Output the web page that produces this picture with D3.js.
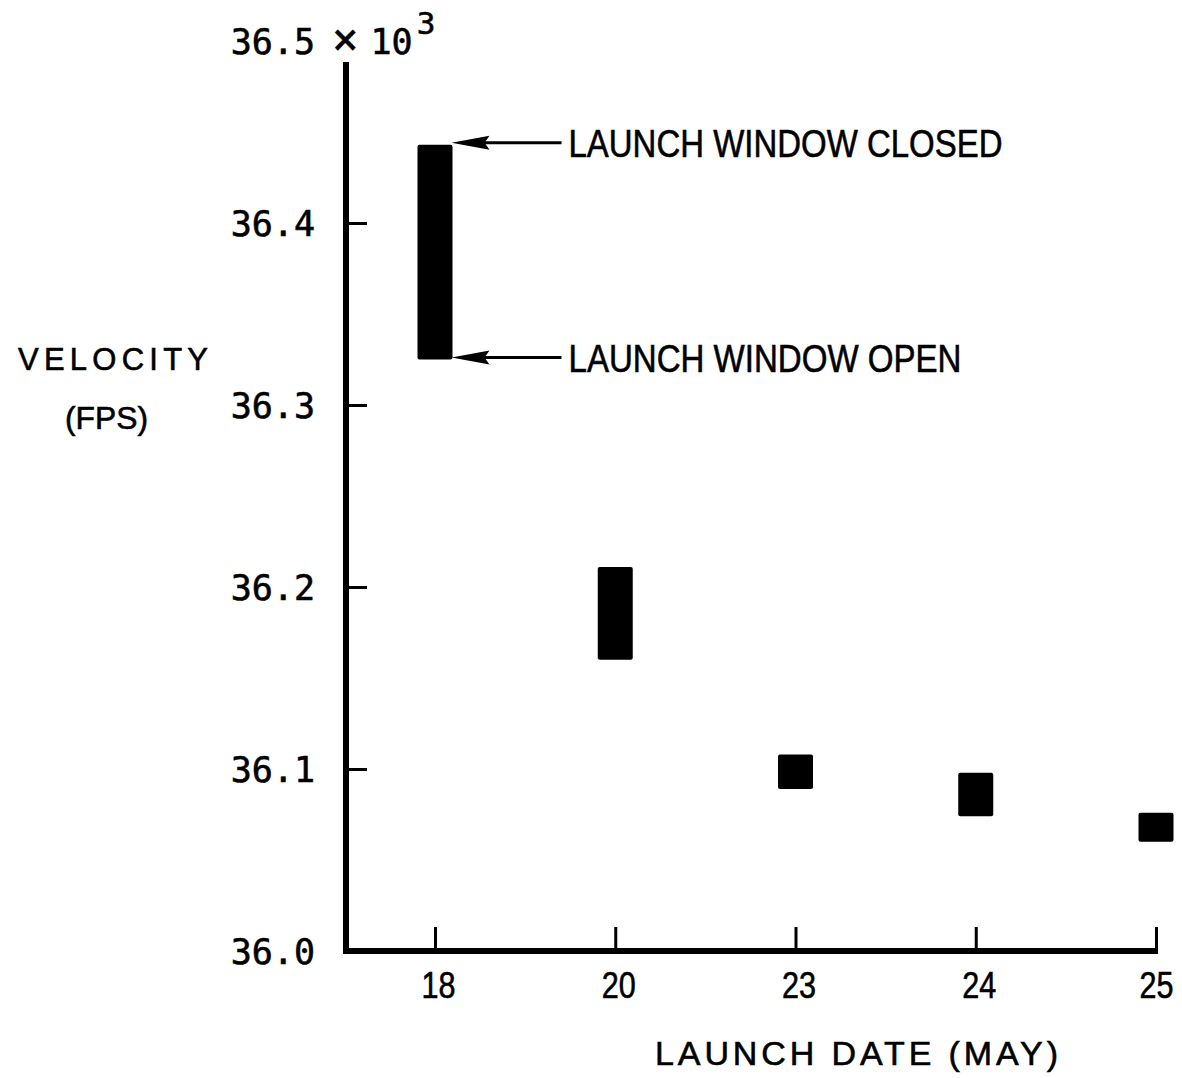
<!DOCTYPE html>
<html>
<head>
<meta charset="utf-8">
<script src="https://cdn.jsdelivr.net/npm/d3@7"></script>
<style>
  html, body { margin: 0; padding: 0; background: #fff; }
  svg { display: block; }
  .mono { font-family: "DejaVu Sans Mono", "Liberation Mono", monospace; }
  .sans { font-family: "Liberation Sans", "DejaVu Sans", Arial, sans-serif; }
  text { fill: #000; stroke: #000; stroke-width: 0.6px; }
</style>
</head>
<body>
<svg id="chart" width="1182" height="1078"></svg>
<script>
// ---- data ----
const launchDates = ["18", "20", "23", "24", "25"];
const windowOpen   = [36.325, 36.160, 36.089, 36.074, 36.060];   // x10^3 fps
const windowClosed = [36.443, 36.211, 36.108, 36.098, 36.076];   // x10^3 fps
const yTickValues  = [36.0, 36.1, 36.2, 36.3, 36.4];
const yTopValue    = 36.5;
const yAxisTitle   = ["VELOCITY", "(FPS)"];
const xAxisTitle   = "LAUNCH DATE (MAY)";
const annotations  = ["LAUNCH WINDOW CLOSED", "LAUNCH WINDOW OPEN"];

// ---- layout ----
const svg = d3.select("#chart");
const axisX = 346, axisY = 951;
const y = d3.scaleLinear().domain([36.0, 36.5]).range([951, 41]);
const x = d3.scalePoint().domain(launchDates).range([435, 1156]);
const barW = 35;

const rows = launchDates.map((d, i) => ({ date: d, open: windowOpen[i], closed: windowClosed[i] }));

// ---- y axis ----
const yAxis = d3.axisLeft(y)
  .tickValues(yTickValues)
  .tickFormat(d3.format(".1f"))
  .tickSizeInner(-21)
  .tickSizeOuter(0)
  .tickPadding(31);
const gy = svg.append("g").attr("transform", `translate(${axisX},0)`).call(yAxis);
gy.select(".domain").remove();
gy.selectAll(".tick line").attr("stroke", "#000").attr("stroke-width", 3);
gy.selectAll(".tick text")
  .attr("class", "mono")
  .style("font-size", "35px")
  .attr("dy", "0.36em");
gy.selectAll(".tick").filter(d => d === 36.0).select("line").remove();

// top label 36.5 x 10^3
const topLbl = svg.append("g").attr("class", "mono").style("font-size", "35px");
topLbl.append("text")
  .attr("x", axisX - 31).attr("y", y(yTopValue)).attr("dy", "0.36em")
  .attr("text-anchor", "end").text(d3.format(".1f")(yTopValue));
const rest = topLbl.append("text")
  .attr("x", axisX - 14).attr("y", y(yTopValue)).attr("dy", "0.36em")
  .attr("text-anchor", "start");
rest.append("tspan").style("font-size", "44px").text("\u00D7");
rest.append("tspan").attr("dx", "12").text("10");
rest.append("tspan").attr("dy", "-0.62em").attr("dx", "4").style("font-size", "31px").text("3");

// y axis line
svg.append("line")
  .attr("x1", axisX).attr("x2", axisX)
  .attr("y1", 62).attr("y2", axisY + 3)
  .attr("stroke", "#000").attr("stroke-width", 6);

// ---- x axis ----
const xAxis = d3.axisBottom(x)
  .tickSizeInner(-24)
  .tickSizeOuter(0)
  .tickPadding(21);
const gx = svg.append("g").attr("transform", `translate(0,${axisY})`).call(xAxis);
gx.select(".domain").remove();
gx.selectAll(".tick line").attr("stroke", "#000").attr("stroke-width", 3);
gx.selectAll(".tick text")
  .attr("class", "sans")
  .attr("dx", (d, i, n) => i === n.length - 1 ? 0 : 3)
  .style("font-size", "37px")
  .attr("textLength", 34)
  .attr("lengthAdjust", "spacingAndGlyphs");

svg.append("line")
  .attr("x1", axisX - 3).attr("x2", x("25") + 2)
  .attr("y1", axisY).attr("y2", axisY)
  .attr("stroke", "#000").attr("stroke-width", 6);

// ---- bars (launch window ranges) ----
svg.append("g").selectAll("rect")
  .data(rows)
  .join("rect")
  .attr("x", d => x(d.date) - barW / 2)
  .attr("width", barW)
  .attr("y", d => y(d.closed))
  .attr("height", d => y(d.open) - y(d.closed))
  .attr("rx", 2)
  .attr("fill", "#000");

// ---- annotations ----
const first = rows[0];
const tipX = x(first.date) + barW / 2 - 1;
[[first.closed, annotations[0], 434], [first.open, annotations[1], 393]].forEach(([v, label, len]) => {
  const ty = y(v) - 2;
  svg.append("line")
    .attr("x1", tipX + 30).attr("x2", tipX + 110)
    .attr("y1", ty).attr("y2", ty)
    .attr("stroke", "#000").attr("stroke-width", 3);
  svg.append("path")
    .attr("d", `M${tipX},${ty} L${tipX + 38},${ty - 7} L${tipX + 33},${ty} L${tipX + 38},${ty + 7} Z`)
    .attr("fill", "#000");
  svg.append("text")
    .attr("class", "sans")
    .attr("x", tipX + 117).attr("y", ty + 14)
    .style("font-size", "39px")
    .attr("textLength", len)
    .attr("lengthAdjust", "spacingAndGlyphs")
    .text(label);
});

// ---- axis titles ----
svg.append("text").attr("class", "sans")
  .attr("x", 18).attr("y", 370)
  .style("font-size", "31px")
  .attr("textLength", 190).attr("lengthAdjust", "spacing")
  .text(yAxisTitle[0]);
svg.append("text").attr("class", "sans")
  .attr("x", 65).attr("y", 429)
  .style("font-size", "32px")
  .attr("textLength", 83).attr("lengthAdjust", "spacingAndGlyphs")
  .text(yAxisTitle[1]);
svg.append("text").attr("class", "sans")
  .attr("x", 655).attr("y", 1065)
  .style("font-size", "34px")
  .attr("textLength", 403).attr("lengthAdjust", "spacing")
  .text(xAxisTitle);
</script>
</body>
</html>
